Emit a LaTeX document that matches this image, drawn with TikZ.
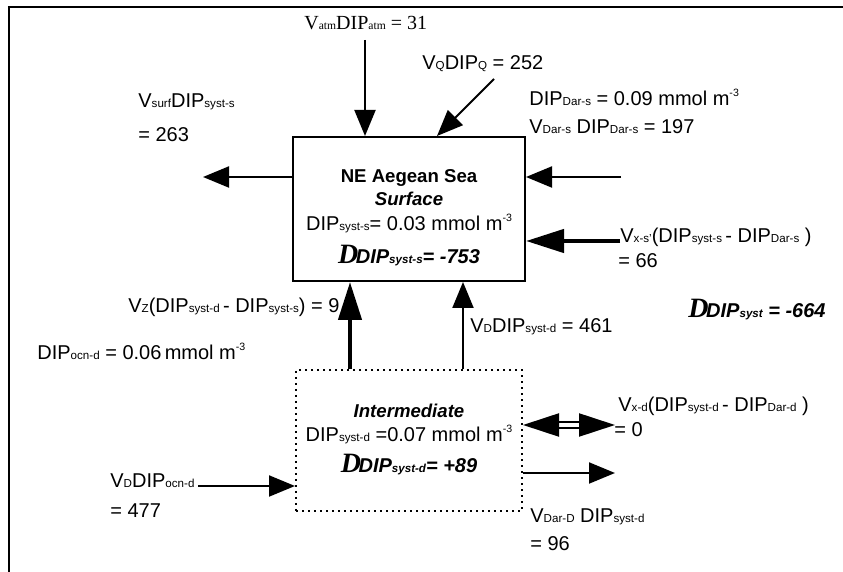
\documentclass[tikz,border=0pt]{standalone}
\usepackage{fontspec}
\setmainfont{Liberation Sans}
\newfontfamily\tnr{Liberation Serif}
\usetikzlibrary{arrows.meta,calc}
\newcommand{\subtxt}[1]{{\fontsize{5.8}{6}\selectfont #1}}
\newcommand{\suptxt}[1]{\raisebox{4.5pt}{\fontsize{5.3}{6}\selectfont #1}}
\newcommand{\bigD}{{\tnr\bfseries\itshape\fontsize{14}{14}\selectfont D}\kern-1.2pt}

\begin{document}
\begin{tikzpicture}[
 x=0.5pt, y=-0.5pt,
 box/.style={rectangle, draw, line width=1pt, minimum width=116pt, minimum height=72pt, inner sep=0pt},
 dbox/.style={rectangle, draw, dotted, line width=1pt, minimum width=113pt, minimum height=70.5pt, inner sep=0pt},
 flux/.style={-{Triangle[length=13pt, width=10.5pt]}, line width=1pt},
 bigflux/.style={-{Triangle[length=19pt, width=11.5pt]}, line width=2.2pt},
 twoway/.style={{Triangle[length=18pt, width=11.5pt]}-{Triangle[length=18pt, width=11.5pt]}, double, double distance=1.6pt, line width=1.1pt},
 lab/.style={anchor=base west, inner sep=0pt, font=\fontsize{10}{12}\selectfont},
 boxlab/.style={anchor=base, inner sep=0pt, font=\fontsize{10}{12}\selectfont}
]
\useasboundingbox (0,0) rectangle (843,572);

% Frame
\draw[line width=1pt] (8,7) -- (843,7);
\draw[line width=1pt] (9,7) -- (9,572);

% Boxes
\node[box] (surf) at (409,209) {};
\node[dbox] (inter) at (409,440.5) {};

\node[boxlab, font=\fontsize{9.3}{11}\selectfont\bfseries] (surfname) at (409,183) {NE Aegean Sea};
\node[boxlab, font=\fontsize{9.3}{11}\selectfont\bfseries\itshape] (surftype) at (409,206) {Surface};
\node[boxlab] (surfconc) at (409,231) {DIP\subtxt{syst-s}= 0.03 mmol m\suptxt{-3}};
\node[boxlab, font=\fontsize{10}{11}\selectfont\bfseries\itshape] (surfdelta) at (409,264) {\bigD DIP\subtxt{syst-s}= -753};

\node[boxlab, font=\fontsize{9.3}{11}\selectfont\bfseries\itshape] (intertype) at (409,418) {Intermediate};
\node[boxlab] (interconc) at (409,442) {DIP\subtxt{syst-d} =0.07 mmol m\suptxt{-3}};
\node[boxlab, font=\fontsize{10}{11}\selectfont\bfseries\itshape] (interdelta) at (409,473) {\bigD DIP\subtxt{syst-d}= +89};

% Free ends
\coordinate (atm) at (365,40);
\coordinate (qsrc) at (494,79);
\coordinate (surfout) at (203,177);
\coordinate (darin) at (621,177);
\coordinate (xsin) at (620,241);
\coordinate (zx) at (350,330);
\coordinate (dx) at (463,330);
\coordinate (ocnin) at (198,486);
\coordinate (xd) at (615,425);
\coordinate (darout) at (615,473);

% Fluxes - surface
\draw[flux] (atm) -- (atm |- surf.north);
\draw[flux] (qsrc) -- ([xshift=14pt]surf.north);
\draw[flux] (surf.west |- surfout) -- (surfout);
\draw[flux] (darin) -- (darin -| surf.east);
\draw[bigflux] (xsin) -- (xsin -| surf.east);

% Fluxes - intermediate
\draw[bigflux] (inter.north -| zx) -- (surf.south -| zx);
\draw[flux] (inter.north -| dx) -- (surf.south -| dx);
\draw[flux] (ocnin) -- (ocnin -| inter.west);
\draw[twoway] (xd -| inter.east) -- (xd);
\draw[flux] (darout -| inter.east) -- (darout);

% Labels
\node[lab, font=\tnr\fontsize{10}{12}\selectfont] (atmlab) at (304,30) {V\subtxt{atm}DIP\subtxt{atm} = 31};
\node[lab] (qlab) at (422,70) {V\subtxt{Q}DIP\subtxt{Q} = 252};
\node[lab] (surflab) at (138,108) {V\subtxt{surf}DIP\subtxt{syst-s}};
\node[lab] (surfval) at (138,142) {= 263};
\node[lab] (darconc) at (529,106) {DIP\subtxt{Dar-s} = 0.09 mmol m\suptxt{-3}};
\node[lab] (darlab) at (529,134) {V\subtxt{Dar-s} DIP\subtxt{Dar-s} = 197};
\node[lab] (xslab) at (620,243) {V\subtxt{x-s'}(DIP\subtxt{syst-s}\,- DIP\subtxt{Dar-s} )};
\node[lab] (xsval) at (618,268) {= 66};
\node[lab, font=\fontsize{10}{11}\selectfont\bfseries\itshape] (systlab) at (688,318) {\bigD DIP\subtxt{syst} = -664};
\node[lab] (zlab) at (128,313) {V\subtxt{Z}(DIP\subtxt{syst-d}\,- DIP\subtxt{syst-s}) = 9};
\node[lab] (dlab) at (470,333) {V\subtxt{D}DIP\subtxt{syst-d} = 461};
\node[lab] (ocnconc) at (37,360) {DIP\subtxt{ocn-d} = 0.06\,mmol m\suptxt{-3}};
\node[lab] (ocnlab) at (110,488) {V\subtxt{D}DIP\subtxt{ocn-d}};
\node[lab] (ocnval) at (110,518) {= 477};
\node[lab] (xdlab) at (618,412) {V\subtxt{x-d}(DIP\subtxt{syst-d}\,- DIP\subtxt{Dar-d} )};
\node[lab] (xdval) at (614,437) {= 0};
\node[lab] (outlab) at (530,523) {V\subtxt{Dar-D} DIP\subtxt{syst-d}};
\node[lab] (outval) at (530,551) {= 96};

\end{tikzpicture}
\end{document}
